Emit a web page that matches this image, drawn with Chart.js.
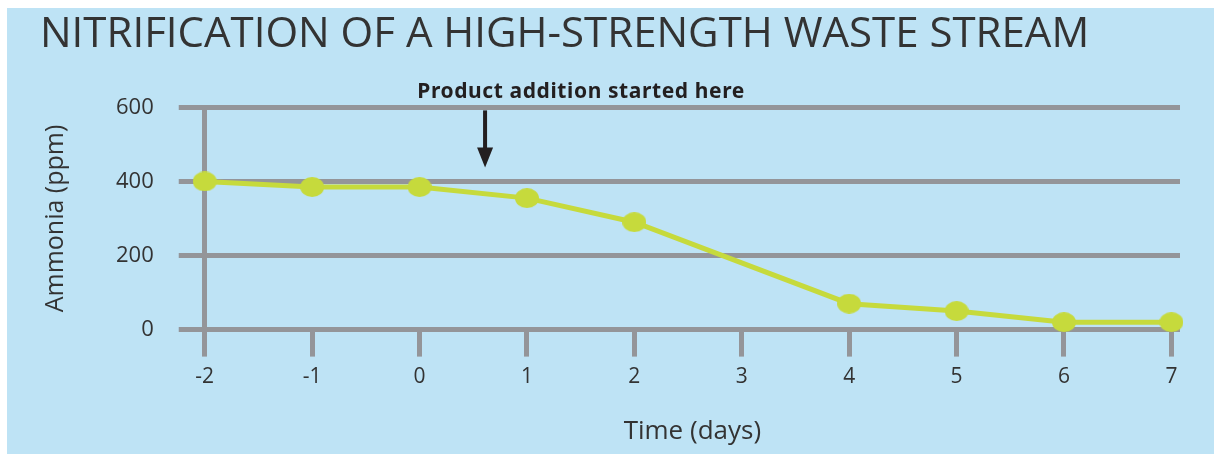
<!DOCTYPE html>
<html>
<head>
<meta charset="utf-8">
<script src="https://cdn.jsdelivr.net/npm/chart.js@4"></script>
<style>
  html, body { margin: 0; padding: 0; background: #fff; }
  #wrap { width: 1214px; height: 454px; }
</style>
</head>
<body>
<div id="wrap"><canvas id="chartAmonio"></canvas></div>
<script>
  const days = [-2, -1, 0, 1, 2, 4, 5, 6, 7];
  const ammonia = [400, 385, 385, 355, 290, 70, 50, 20, 20];
  const xTicks = [-2, -1, 0, 1, 2, 3, 4, 5, 6, 7];
  const yTicks = [0, 200, 400, 600];
  const noteText = 'Product addition started here';
  const noteDay = 0.61;

  const gris = '#949599';
  const verde = '#c6da3c';
  const texto = '#333333';

  // punto un poco ovalado, como en el original
  const punto = document.createElement('canvas');
  punto.width = 24;
  punto.height = 20;
  const pc = punto.getContext('2d');
  pc.fillStyle = verde;
  pc.beginPath();
  pc.ellipse(12, 10, 12, 10, 0, 0, Math.PI * 2);
  pc.fill();

  // fondo celeste y la flecha de la nota
  const fondoYNota = {
    id: 'fondoYNota',
    beforeDraw(chart) {
      const c = chart.ctx;
      c.save();
      c.fillStyle = '#bee3f5';
      c.fillRect(7, 8, chart.width - 7, chart.height - 8);
      c.restore();
    },
    afterDraw(chart) {
      const c = chart.ctx;
      const x = chart.scales.x.getPixelForValue(noteDay);
      const top = chart.chartArea.top;
      c.save();
      c.fillStyle = '#231f20';
      c.font = 'bold 21px "Noto Sans"';
      c.letterSpacing = '0.6px';
      c.textAlign = 'center';
      c.textBaseline = 'middle';
      c.fillText(noteText, x + 96, top - 15);
      c.fillRect(x - 2, top + 3, 4, 40);
      c.beginPath();
      c.moveTo(x - 8, top + 40);
      c.lineTo(x + 8, top + 40);
      c.lineTo(x, top + 60);
      c.closePath();
      c.fill();
      c.restore();
    }
  };

  const ctx = document.getElementById('chartAmonio');

  new Chart(ctx, {
    type: 'line',
    data: {
      datasets: [{
        label: 'Ammonia (ppm)',
        data: days.map((d, i) => ({ x: d, y: ammonia[i] })),
        borderColor: verde,
        backgroundColor: verde,
        borderWidth: 5,
        pointStyle: punto,
        pointRadius: 11,
        pointHoverRadius: 11,
        tension: 0,
        clip: false
      }]
    },
    plugins: [fondoYNota],
    options: {
      responsive: true,
      maintainAspectRatio: false,
      animation: false,
      layout: { padding: { left: 40, right: 34, top: 10, bottom: 7 } },
      plugins: {
        legend: { display: false },
        tooltip: { enabled: false },
        title: {
          display: true,
          text: 'NITRIFICATION OF A HIGH-STRENGTH WASTE STREAM',
          align: 'start',
          color: texto,
          font: { family: 'Open Sans', size: 42, weight: 'normal' },
          padding: { top: 0, bottom: 47 }
        }
      },
      scales: {
        x: {
          type: 'linear',
          min: -2,
          max: 7.08,
          afterBuildTicks: (axis) => {
            axis.ticks = xTicks.map(v => ({ value: v }));
          },
          ticks: {
            color: texto,
            font: { family: 'Open Sans', size: 21 },
            padding: 8
          },
          grid: {
            drawOnChartArea: false,
            drawTicks: true,
            tickLength: 27,
            color: gris,
            lineWidth: 5
          },
          border: { display: false },
          title: {
            display: true,
            text: 'Time (days)',
            color: texto,
            font: { family: 'Open Sans', size: 26 },
            padding: { top: 18, bottom: 0 }
          }
        },
        y: {
          min: 0,
          max: 600,
          afterBuildTicks: (axis) => {
            axis.ticks = yTicks.map(v => ({ value: v }));
          },
          ticks: {
            color: texto,
            font: { family: 'Open Sans', size: 22 },
            padding: 25
          },
          grid: {
            color: gris,
            lineWidth: 5,
            tickLength: 26
          },
          border: { display: true, color: gris, width: 5 },
          title: {
            display: true,
            text: 'Ammonia (ppm)',
            color: texto,
            font: { family: 'Open Sans', size: 25 },
            padding: { top: 1, bottom: 20 }
          }
        }
      }
    }
  });
</script>
</body>
</html>
